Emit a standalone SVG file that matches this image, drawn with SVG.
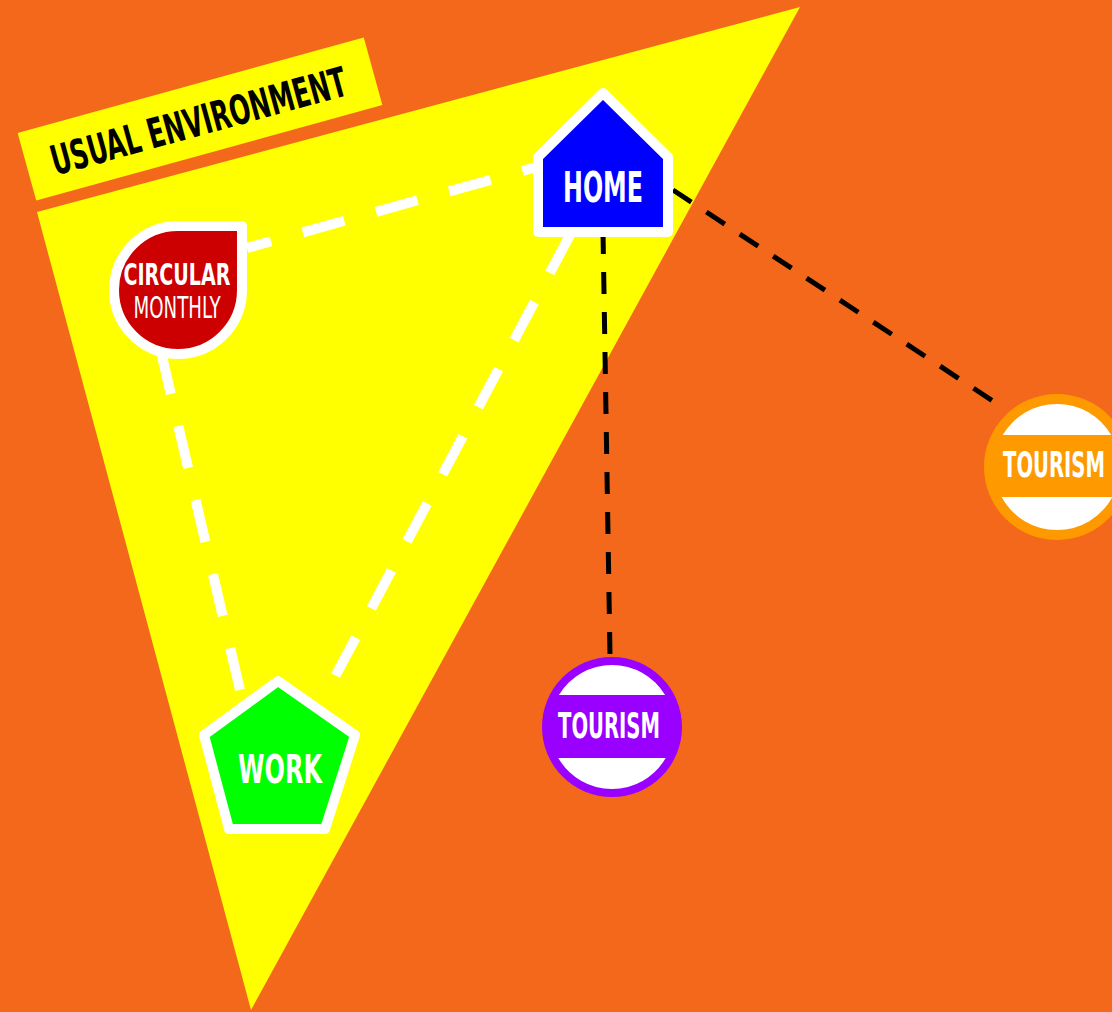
<svg xmlns="http://www.w3.org/2000/svg" width="1112" height="1012" viewBox="0 0 1112 1012">
<style>
.lbl{font-family:"Liberation Sans Narrow","DejaVu Sans Condensed","Liberation Sans",sans-serif;font-weight:bold;text-anchor:middle;fill:#ffffff}
.wd{stroke:#ffffff;stroke-width:10;stroke-dasharray:43 33;fill:none}
.bd{stroke:#000000;stroke-width:5;stroke-dasharray:22 18;fill:none}
.edge{stroke:#ffffff;stroke-width:10;stroke-linejoin:round}
.cap{fill:#ffffff}
</style>
<rect width="1112" height="1012" fill="#F3681A"/>
<g id="usual-environment">
<polygon points="37,212 800,7 251,1010" fill="#FFFF00"/>
<g transform="rotate(-15.4 200 119)">
<rect x="20.5" y="84" width="359" height="70" fill="#FFFF00"/>
<text x="198" y="135" class="lbl" style="fill:#000000" font-size="41" textLength="305" lengthAdjust="spacingAndGlyphs">USUAL ENVIRONMENT</text>
</g>
</g>
<g id="connectors">
<line class="wd" x1="247" y1="248" x2="540" y2="166" stroke-dashoffset="18"/>
<line class="wd" x1="570" y1="235" x2="330" y2="686"/>
<line class="wd" x1="161" y1="352" x2="240" y2="690"/>
<line class="bd" x1="603" y1="232" x2="610" y2="655"/>
<line class="bd" x1="673" y1="190" x2="1002" y2="407"/>
</g>
<g id="home">
<path class="edge" d="M603,93 L668,157 L668,232 L538,232 L538,157 Z" fill="#0000FF"/>
<text x="603" y="202" class="lbl" font-size="43" textLength="80" lengthAdjust="spacingAndGlyphs">HOME</text>
</g>
<g id="circular">
<path class="edge" d="M178,226 L242,226 L242,290 A64,64 0 1 1 178,226 Z" fill="#CC0000"/>
<text x="177" y="285" class="lbl" font-size="31" textLength="107" lengthAdjust="spacingAndGlyphs">CIRCULAR</text>
<text x="177" y="318" class="lbl" style="font-weight:normal" font-size="31" textLength="87" lengthAdjust="spacingAndGlyphs">MONTHLY</text>
</g>
<g id="work">
<polygon class="edge" points="278,681 355,735 325,829 229,829 204,735" fill="#00FF00"/>
<text x="280" y="783" class="lbl" font-size="39" textLength="84" lengthAdjust="spacingAndGlyphs">WORK</text>
</g>
<g id="tourism-1">
<circle cx="612" cy="727" r="70" fill="#9900FF"/>
<path class="cap" d="M558.9,695 A62,62 0 0 1 665.1,695 Z"/>
<path class="cap" d="M665.7,758 A62,62 0 0 1 558.3,758 Z"/>
<text x="609" y="738" class="lbl" font-size="35" textLength="102" lengthAdjust="spacingAndGlyphs">TOURISM</text>
</g>
<g id="tourism-2">
<circle cx="1057" cy="467" r="73" fill="#FF9900"/>
<path class="cap" d="M1002.7,435 A63,63 0 0 1 1111.3,435 Z"/>
<path class="cap" d="M1112.4,497 A63,63 0 0 1 1001.6,497 Z"/>
<text x="1054" y="477" class="lbl" font-size="35" textLength="102" lengthAdjust="spacingAndGlyphs">TOURISM</text>
</g>
</svg>
